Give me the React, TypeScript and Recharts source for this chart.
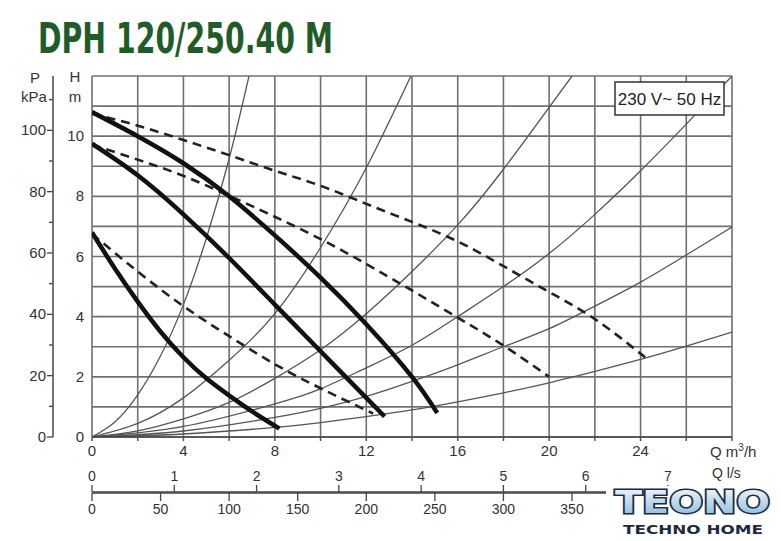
import React from "react";
import { ComposedChart, Line, XAxis, YAxis, CartesianGrid } from "recharts";

// axes
const Q_MAX = 28;
const H_MAX = 12;
const P_MAX = H_MAX * 9.81;
const LS_MAX = Q_MAX / 3.6;
const LMIN_MAX = (Q_MAX * 1000) / 60;

const Q_TICKS = [0, 2, 4, 6, 8, 10, 12, 14, 16, 18, 20, 22, 24, 26, 28];
const Q_LABELS = [0, 4, 8, 12, 16, 20, 24];
const H_TICKS = [0, 1, 2, 3, 4, 5, 6, 7, 8, 9, 10, 11, 12];
const H_LABELS = [0, 2, 4, 6, 8, 10];
const P_TICKS = [0, 10, 20, 30, 40, 50, 60, 70, 80, 90, 100, 110];
const P_LABELS = [0, 20, 40, 60, 80, 100];
const LS_TICKS = [0, 1, 2, 3, 4, 5, 6, 7];
const LMIN_TICKS = [0, 50, 100, 150, 200, 250, 300, 350];

// pump curves [Q m3/h, H m]
const SPEED3_SOLID = [[0, 10.8], [2, 10.0], [4, 9.1], [6, 8.0], [8, 6.7], [10, 5.3], [12, 3.75], [14, 2.0], [15.1, 0.8]];
const SPEED2_SOLID = [[0, 9.75], [2, 8.7], [4, 7.4], [6, 5.95], [8, 4.4], [10, 2.85], [12, 1.3], [12.8, 0.68]];
const SPEED1_SOLID = [[0, 6.8], [1, 5.6], [2, 4.5], [3, 3.5], [4, 2.65], [5, 1.95], [6, 1.38], [7, 0.85], [8.2, 0.28]];

const SPEED3_DASH = [[0, 10.75], [2, 10.35], [4, 9.87], [6, 9.37], [8, 8.85], [10, 8.35], [12, 7.75], [14, 7.15], [16, 6.5], [18, 5.68], [20, 4.82], [22, 3.92], [24.2, 2.65]];
const SPEED2_DASH = [[0, 9.72], [2, 9.22], [4, 8.68], [6, 8.02], [8, 7.32], [10, 6.58], [12, 5.75], [14, 4.87], [16, 3.97], [18, 3.04], [20, 2.0]];
const SPEED1_DASH = [[0, 6.75], [2, 5.5], [4, 4.35], [6, 3.35], [8, 2.42], [10, 1.62], [12.3, 0.78]];

// system curves
const SYS_A = [[0, 0], [1, 0.5], [2, 1.4], [3, 2.7], [4, 4.4], [5, 6.6], [6, 9.25], [6.87, 12]];
const SYS_B = [[0, 0], [2, 0.45], [4, 1.3], [6, 2.55], [8, 4.1], [10, 6.3], [12, 8.95], [13.95, 12]];
const SYS_C = [[0, 0], [2, 0.2], [4, 0.6], [6, 1.15], [8, 1.95], [10, 2.9], [12, 4.1], [14, 5.5], [16, 7.05], [18, 8.9], [21, 12]];
const SYS_D = [[0, 0], [4, 0.35], [8, 1.1], [10, 1.6], [12, 2.3], [14, 3.05], [16, 4.0], [18, 5.0], [20, 6.1], [22, 7.4], [24, 8.85], [26, 10.4], [28, 12]];
const SYS_E = [[0, 0], [4, 0.2], [8, 0.65], [10, 0.95], [12, 1.35], [14, 1.85], [16, 2.4], [18, 3.0], [20, 3.6], [22, 4.35], [24, 5.15], [26, 6.05], [28, 6.98]];
const SYS_F = [[0, 0], [4, 0.1], [8, 0.32], [10, 0.48], [12, 0.68], [14, 0.9], [16, 1.17], [18, 1.47], [20, 1.8], [22, 2.18], [24, 2.58], [26, 3.02], [28, 3.49]];

const toRows = (pts: number[][]) => pts.map(([q, h]) => ({ q, h }));

const FONT = "'Liberation Sans', Arial, sans-serif";
const TXT = "#333";
const AXIS = "#444";

const HTick = ({ x, y, payload }: any) =>
  H_LABELS.includes(payload.value) ? (
    <text x={x} y={y} dy={5} textAnchor="end" fontSize={15} fill={TXT} fontFamily={FONT}>
      {payload.value}
    </text>
  ) : (
    <g />
  );

const PTick = ({ x, y, payload }: any) => {
  const major = P_LABELS.includes(payload.value);
  return (
    <g>
      <line x1={x - (major ? 6 : 4)} x2={x} y1={y} y2={y} stroke={AXIS} strokeWidth={1.3} />
      {major && (
        <text x={x - 7} y={y} dy={5} textAnchor="end" fontSize={15} fill={TXT} fontFamily={FONT}>
          {payload.value}
        </text>
      )}
    </g>
  );
};

const QTick = ({ x, y, payload }: any) =>
  Q_LABELS.includes(payload.value) ? (
    <text x={x} y={y} dy={12} textAnchor="middle" fontSize={15} fill={TXT} fontFamily={FONT}>
      {payload.value}
    </text>
  ) : (
    <g />
  );

const solid = [SPEED3_SOLID, SPEED2_SOLID, SPEED1_SOLID];
const dashed = [SPEED3_DASH, SPEED2_DASH, SPEED1_DASH];
const system = [SYS_A, SYS_B, SYS_C, SYS_D, SYS_E, SYS_F];

const smallTick = { fill: TXT, fontSize: 14, fontFamily: FONT };

export default function App() {
  return (
    <div style={{ position: "absolute", left: 0, top: 0, width: 781, height: 541, background: "#fff" }}>
      <ComposedChart width={781} height={541} margin={{ top: 76, right: 49, left: 0, bottom: 49 }}>
        <CartesianGrid xAxisId="q" yAxisId="h" stroke="#707070" strokeWidth={1.6} />
        <XAxis
          xAxisId="q"
          type="number"
          dataKey="q"
          domain={[0, Q_MAX]}
          ticks={Q_TICKS}
          interval={0}
          allowDataOverflow
          height={55}
          axisLine={{ stroke: AXIS, strokeWidth: 1.5 }}
          tickLine={{ stroke: "#555", strokeWidth: 1.5 }}
          tickSize={4}
          tickMargin={3}
          tick={<QTick />}
        />
        <YAxis
          yAxisId="h"
          type="number"
          domain={[0, H_MAX]}
          ticks={H_TICKS}
          interval={0}
          allowDataOverflow
          width={39}
          axisLine={false}
          tickLine={false}
          tickSize={0}
          tickMargin={8}
          tick={<HTick />}
        />
        <YAxis
          yAxisId="p"
          type="number"
          domain={[0, P_MAX]}
          ticks={P_TICKS}
          interval={0}
          allowDataOverflow
          width={53}
          axisLine={{ stroke: AXIS, strokeWidth: 1.5 }}
          tickLine={false}
          tickSize={0}
          tickMargin={0}
          tick={<PTick />}
        />
        {system.map((c, i) => (
          <Line
            key={"s" + i}
            xAxisId="q"
            yAxisId="h"
            data={toRows(c)}
            dataKey="h"
            type="natural"
            stroke="#555"
            strokeWidth={1.3}
            dot={false}
            activeDot={false}
            isAnimationActive={false}
          />
        ))}
        {dashed.map((c, i) => (
          <Line
            key={"d" + i}
            xAxisId="q"
            yAxisId="h"
            data={toRows(c)}
            dataKey="h"
            type="natural"
            stroke="#222"
            strokeWidth={2.6}
            strokeDasharray="9 6"
            dot={false}
            activeDot={false}
            isAnimationActive={false}
          />
        ))}
        {solid.map((c, i) => (
          <Line
            key={"t" + i}
            xAxisId="q"
            yAxisId="h"
            data={toRows(c)}
            dataKey="h"
            type="natural"
            stroke="#111"
            strokeWidth={4.5}
            dot={false}
            activeDot={false}
            isAnimationActive={false}
          />
        ))}
      </ComposedChart>

      {/* l/s and l/min scales, sharing one line at y = 492 */}
      <div style={{ position: "absolute", left: 0, top: 0, pointerEvents: "none" }}>
        <ComposedChart width={781} height={541} margin={{ top: 472, right: 49, left: 92, bottom: 18 }}>
          <XAxis
            xAxisId="ls"
            orientation="top"
            type="number"
            dataKey="v"
            domain={[0, LS_MAX]}
            ticks={LS_TICKS}
            interval={0}
            allowDataOverflow
            height={20}
            axisLine={{ stroke: AXIS, strokeWidth: 1.5 }}
            tickLine={{ stroke: AXIS, strokeWidth: 1.3 }}
            tickSize={7}
            tickMargin={4}
            tick={smallTick}
          />
          <XAxis
            xAxisId="lmin"
            orientation="bottom"
            type="number"
            dataKey="v"
            domain={[0, LMIN_MAX]}
            ticks={LMIN_TICKS}
            interval={0}
            allowDataOverflow
            height={30}
            axisLine={{ stroke: AXIS, strokeWidth: 1.5 }}
            tickLine={{ stroke: AXIS, strokeWidth: 1.3 }}
            tickSize={8}
            tickMargin={3}
            tick={smallTick}
          />
          <YAxis yAxisId="z" hide domain={[0, 1]} />
          <Line
            xAxisId="ls"
            yAxisId="z"
            data={LS_TICKS.map((v) => ({ v, z: 0 }))}
            dataKey="z"
            stroke="none"
            dot={false}
            activeDot={false}
            isAnimationActive={false}
          />
          <Line
            xAxisId="lmin"
            yAxisId="z"
            data={LMIN_TICKS.map((v) => ({ v, z: 0 }))}
            dataKey="z"
            stroke="none"
            dot={false}
            activeDot={false}
            isAnimationActive={false}
          />
        </ComposedChart>
      </div>

      <svg
        width={781}
        height={541}
        style={{ position: "absolute", left: 0, top: 0, pointerEvents: "none" }}
      >
        <defs>
          <linearGradient id="logoFill" x1="0" y1="0" x2="0" y2="1">
            <stop offset="0" stopColor="#ffffff" />
            <stop offset="1" stopColor="#7fb2d8" />
          </linearGradient>
        </defs>
        <text
          x={38}
          y={53}
          fontSize={42}
          fontWeight="bold"
          fill="#1f5c2a"
          fontFamily="'Liberation Sans Narrow', 'DejaVu Sans Condensed', sans-serif"
          textLength={295}
          lengthAdjust="spacingAndGlyphs"
        >
          DPH 120/250.40 M
        </text>
        <g fontFamily={FONT} fill={TXT} fontSize={15} textAnchor="middle">
          <text x={35} y={83}>P</text>
          <text x={34} y={102}>kPa</text>
          <text x={75} y={82}>H</text>
          <text x={75} y={102}>m</text>
        </g>
        <text x={710} y={457} fontFamily={FONT} fill={TXT} fontSize={15}>
          Q m<tspan dy={-6} fontSize={10}>3</tspan>
          <tspan dy={6}>/h</tspan>
        </text>
        <text x={712} y={478} fontFamily={FONT} fill={TXT} fontSize={14}>
          Q l/s
        </text>
        <rect x={615} y={82} width={109} height={33} fill="#fff" stroke="#333" strokeWidth={1.5} />
        <text x={669.5} y={105} textAnchor="middle" fontFamily={FONT} fill="#222" fontSize={17}>
          230 V~ 50 Hz
        </text>
        <rect x={606} y={486} width={175} height={55} fill="#fff" />
        <text
          x={615}
          y={513}
          fontSize={32}
          fontWeight="bold"
          fill="url(#logoFill)"
          stroke="#1c2940"
          strokeWidth={3}
          paintOrder="stroke"
          fontFamily="'DejaVu Sans', sans-serif"
          textLength={155}
          lengthAdjust="spacingAndGlyphs"
        >
          TEONO
        </text>
        <text
          x={623}
          y={534}
          fontSize={12}
          fontWeight="bold"
          fill="#1c2940"
          fontFamily="'DejaVu Sans', sans-serif"
          textLength={140}
          lengthAdjust="spacingAndGlyphs"
        >
          TECHNO HOME
        </text>
      </svg>
    </div>
  );
}
